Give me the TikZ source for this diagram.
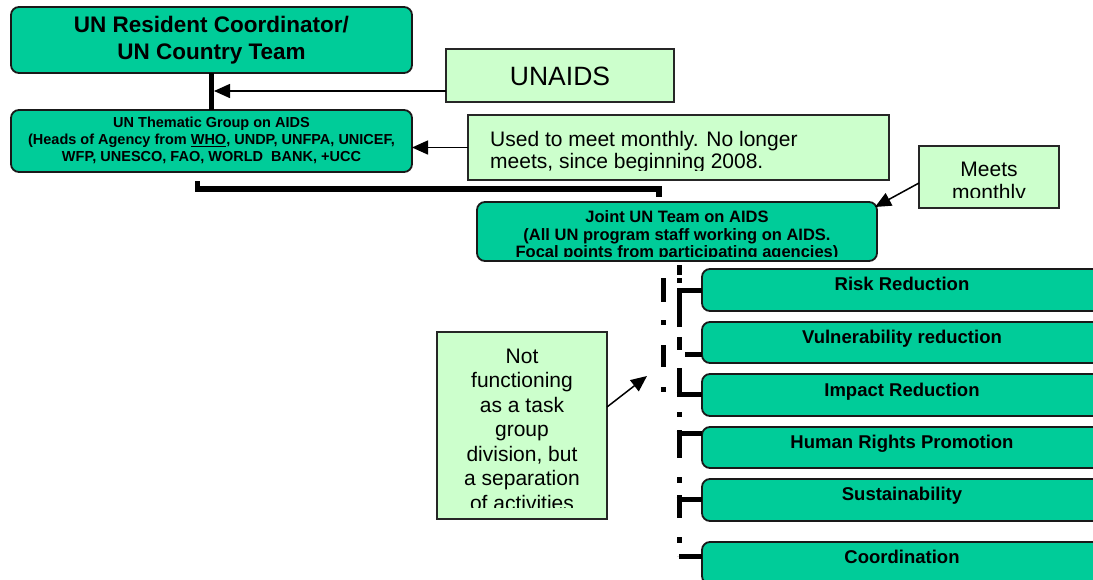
\documentclass[tikz,border=0pt]{standalone}
\usepackage{fontspec}
\setmainfont{Liberation Sans}
\usetikzlibrary{arrows.meta}
\definecolor{teal1}{HTML}{00CC99}
\definecolor{lgreen}{HTML}{CCFFCC}
\begin{document}
\begin{tikzpicture}[x=1pt,y=-1pt,
  darkbox/.style={draw=black!90, line width=1.8pt, fill=teal1, rounded corners=8pt, inner sep=0pt, outer sep=0pt, anchor=north west},
  lightbox/.style={draw=black!85, line width=1.5pt, fill=lgreen, inner sep=0pt, outer sep=0pt, anchor=north west},
  rctxt/.style={font=\bfseries\fontsize{22.5}{27}\selectfont, anchor=base, inner sep=0pt},
  tgtxt/.style={font=\bfseries\fontsize{14.5}{17}\selectfont, anchor=base, inner sep=0pt},
  jtxt/.style={font=\bfseries\fontsize{16.5}{17.5}\selectfont, anchor=base, inner sep=0pt},
  tasktxt/.style={font=\bfseries\fontsize{18.5}{22}\selectfont, anchor=base, inner sep=0pt},
  notetxt/.style={font=\fontsize{21}{24}\selectfont, anchor=base, inner sep=0pt},
  thickline/.style={line width=5pt},
  stubline/.style={line width=5pt},
  arr/.style={line width=1.5pt, -{Triangle[length=16pt,width=14pt]}},
]
\useasboundingbox (0,0) rectangle (1093,579);

% ---- boxes ----
\node[darkbox, minimum width=401pt, minimum height=66pt] (rc) at (11,7) {};
\node[darkbox, minimum width=401pt, minimum height=62pt] (tg) at (11,110) {};
\node[lightbox, minimum width=228pt, minimum height=53pt] (unaids) at (446,49) {};
\node[lightbox, minimum width=421pt, minimum height=65pt] (used) at (468,115) {};
\node[lightbox, minimum width=140pt, minimum height=62pt] (meets) at (919,146) {};
\node[darkbox, minimum width=400pt, minimum height=59pt] (joint) at (477,202) {};
\node[lightbox, minimum width=170pt, minimum height=187pt] (notbox) at (437,332) {};
\node[darkbox, minimum width=420pt, minimum height=42pt] (risk) at (702,269) {};
\node[darkbox, minimum width=420pt, minimum height=41pt] (vuln) at (702,322) {};
\node[darkbox, minimum width=420pt, minimum height=42pt] (impact) at (702,374) {};
\node[darkbox, minimum width=420pt, minimum height=41pt] (human) at (702,427) {};
\node[darkbox, minimum width=420pt, minimum height=42pt] (sustain) at (702,479) {};
\node[darkbox, minimum width=420pt, minimum height=42pt] (coord) at (702,542) {};

% ---- texts ----
\node[rctxt] (rc1) at (211.5,32.5) {UN Resident Coordinator/};
\node[rctxt] (rc2) at (211.5,59.5) {UN Country Team};
\node[tgtxt] (tg1) at (211.5,127.5) {UN Thematic Group on AIDS};
\node[tgtxt] (tg2) at (211.5,144.5) {(Heads of Agency from \underline{WHO}, UNDP, UNFPA, UNICEF,};
\node[tgtxt] (tg3) at (211.5,161.5) {WFP, UNESCO, FAO, WORLD\ \ BANK, +UCC};
\node[font=\fontsize{26.5}{30}\selectfont, anchor=base, inner sep=0pt] (ua1) at (560,85) {UNAIDS};
\begin{scope}
  \clip (468,115) rectangle (889,170.5);
  \node[notetxt, anchor=base west] (us1) at (490,146) {Used to meet monthly. No longer};
  \node[notetxt, anchor=base west] (us2) at (490,168) {meets, since beginning 2008.};
\end{scope}
\begin{scope}
  \clip (919,146) rectangle (1059,197);
  \node[notetxt] (me1) at (989,176) {Meets};
  \node[notetxt] (me2) at (989,199) {monthly};
\end{scope}
\begin{scope}
  \clip (477,202) rectangle (877,256.5);
  \node[jtxt] (jt1) at (677,222.7) {Joint UN Team on AIDS};
  \node[jtxt] (jt2) at (677,240.2) {(All UN program staff working on AIDS.};
  \node[jtxt] (jt3) at (677,257.7) {Focal points from participating agencies)};
\end{scope}
\begin{scope}
  \clip (437,332) rectangle (607,507.5);
  \node[notetxt] (nf1) at (522,363.3) {Not};
  \node[notetxt] (nf2) at (522,387.8) {functioning};
  \node[notetxt] (nf3) at (522,412.3) {as a task};
  \node[notetxt] (nf4) at (522,436.8) {group};
  \node[notetxt] (nf5) at (522,461.3) {division, but};
  \node[notetxt] (nf6) at (522,485.8) {a separation};
  \node[notetxt] (nf7) at (522,510.3) {of activities};
\end{scope}
\node[tasktxt] (t1) at (902,290) {Risk Reduction};
\node[tasktxt] (t2) at (902,343.3) {Vulnerability reduction};
\node[tasktxt] (t3) at (902,396) {Impact Reduction};
\node[tasktxt] (t4) at (902,448.3) {Human Rights Promotion};
\node[tasktxt] (t5) at (902,500) {Sustainability};
\node[tasktxt] (t6) at (902,563.3) {Coordination};

% ---- connectors ----
\draw[thickline] (rc.south) -- (tg.north);
\coordinate (uaend) at (214,91);
\draw[arr] (uaend -| unaids.west) -- (uaend);
\draw[arr] (used.west) -- (used.west -| tg.east);
\coordinate (b1) at (197.5,181);
\coordinate (b2) at (659,197);
\draw[line width=5.5pt] (b1) -- ++(0,8) -| (b2);
\coordinate (m1) at (919,183);
\coordinate (m2) at (875,207);
\draw[arr] (m1) -- (m2);
\coordinate (n1) at (607,407);
\coordinate (n2) at (647,376);
\draw[arr] (n1) -- (n2);

% dashed trunks
\coordinate (tr1) at (679,265);
\coordinate (tr2) at (679,556);
\draw[line width=5pt, dash pattern=on 10pt off 3pt on 5pt off 7pt on 37pt off 10pt on 13pt off 18pt on 24pt off 20pt on 5pt off 13pt on 28pt off 19pt on 6pt off 12pt on 23pt off 19pt on 6pt off 13pt] (tr1) -- (tr2);
\coordinate (ti1) at (663,278);
\coordinate (ti2) at (663,392);
\draw[line width=5pt, dash pattern=on 24pt off 18pt on 5pt off 20pt on 22pt off 20pt on 5pt off 20pt] (ti1) -- (ti2);

% stubs
\coordinate (k1) at (677,290);
\draw[stubline] (k1) -- (k1 -| risk.west);
\coordinate (k2) at (685,354);
\draw[stubline] (k2) -- (k2 -| vuln.west);
\coordinate (k3) at (676.5,394);
\draw[stubline] (k3) -- (k3 -| impact.west);
\coordinate (k4) at (676.5,433);
\draw[stubline] (k4) -- (k4 -| human.west);
\coordinate (k5) at (676.5,499);
\draw[stubline] (k5) -- (k5 -| sustain.west);
\coordinate (k6) at (679,556);
\draw[stubline] (k6) -- (k6 -| coord.west);
\end{tikzpicture}
\end{document}
